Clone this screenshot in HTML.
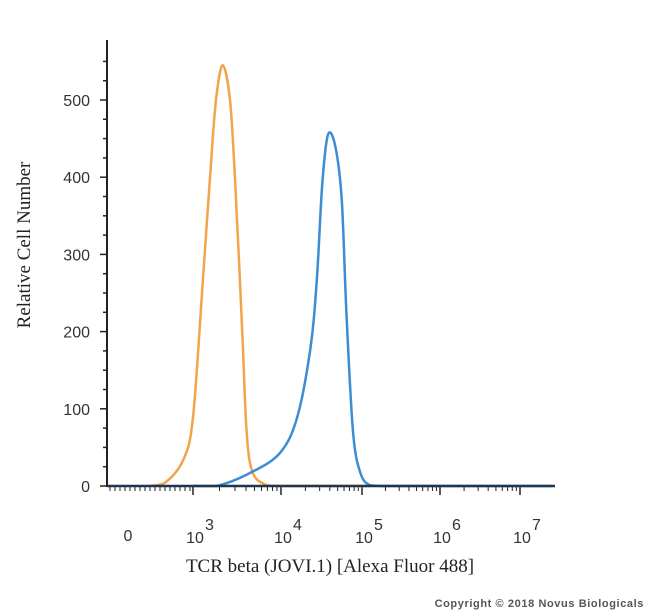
<!DOCTYPE html>
<html><head><meta charset="utf-8"><style>
body{margin:0;background:#fff;width:650px;height:614px;overflow:hidden}
svg{display:block}
.tl{font-family:"Liberation Sans",sans-serif;font-size:16px;fill:#333}
</style></head><body>
<svg id="chart" width="650" height="614">
<g id="axes"></g>
<g id="series"></g>
<text x="30" y="245" transform="rotate(-90 30 245)" text-anchor="middle" font-family="Liberation Serif,serif" font-size="19" fill="#222">Relative Cell Number</text>
<text x="330" y="572" text-anchor="middle" font-family="Liberation Serif,serif" font-size="19" fill="#222">TCR beta (JOVI.1) [Alexa Fluor 488]</text>
<text x="644" y="607" text-anchor="end" font-family="Liberation Sans,sans-serif" font-size="11" font-weight="bold" fill="#555" letter-spacing="0.6">Copyright © 2018 Novus Biologicals</text>
</svg>
<script>
const yTicks=[0,100,200,300,400,500];
const xDecades=[3,4,5,6,7];
const orangeX=[2.5,2.68,2.89,3.0,3.11,3.22,3.27,3.34,3.42,3.48,3.56,3.61,3.68,3.84,4.01,4.3,5.1];
const orangeY=[0,4,34,89,263,444,509,545,500,393,198,69,17,1,0,0,0];
const blueX=[3.0,3.27,3.65,3.99,4.2,4.36,4.44,4.51,4.58,4.67,4.75,4.81,4.89,4.98,5.1,5.3,5.6,7.4];
const blueY=[0,0,17,43,89,176,263,392,455,440,370,219,69,17,1,0,0,0];
const NS='http://www.w3.org/2000/svg';
const decPix={3:193,4:281,5:362,6:440,7:520};
function xs(v){
  if(v<=3) return 193-(3-v)*88;
  if(v>=7) return 520+(v-7)*80;
  const d=Math.floor(v), a=decPix[d], b=decPix[d+1];
  return a+(v-d)*(b-a);
}
function ys(v){return 486-v*0.772;}
function mk(tag,attrs,parent){const e=document.createElementNS(NS,tag);for(const k in attrs)e.setAttribute(k,attrs[k]);parent.appendChild(e);return e;}
const ax=document.getElementById('axes');
const yl=mk('line',{x1:107,y1:40,x2:107,y2:487,stroke:'#222','stroke-width':2},ax);


for(let v=0;v<=550;v+=25){
  const major=v%100===0;
  const t=mk('line',{x1:major?100:103,y1:ys(v),x2:107,y2:ys(v),stroke:'#222','stroke-width':1.5},ax);
  
  
}
yTicks.forEach(v=>{
  const t=mk('text',{x:90,y:ys(v)+6,'text-anchor':'end',class:'tl'},ax);
  t.textContent=v;
  
  
});
const minorPos=[];
for(let p=110;p<193;p+=5)minorPos.push(p);
minorPos.forEach(p=>{const t=mk('line',{x1:p,y1:486,x2:p,y2:491,stroke:'#222','stroke-width':1},ax);});
for(let d=3;d<7;d++){for(let m=2;m<10;m++){const v=d+Math.log10(m);const t=mk('line',{x1:xs(v),y1:486,x2:xs(v),y2:491,stroke:'#222','stroke-width':1},ax);}}
xDecades.forEach(d=>{
  const t=mk('line',{x1:xs(d),y1:486,x2:xs(d),y2:495,stroke:'#222','stroke-width':1.5},ax);
  
  
  const l=mk('text',{x:xs(d)+2,y:543,'text-anchor':'middle',class:'tl'},ax);
  l.textContent='10';
  
  
  const s=mk('text',{x:xs(d)+12,y:530,class:'tl','font-size':'14'},ax);
  s.textContent=d;
  
  
});
const z=mk('text',{x:128,y:541,'text-anchor':'middle',class:'tl'},ax);
z.textContent='0';


const sg=document.getElementById('series');
function drawLine(X,Y,color,name){
  const P=X.map((x,i)=>[xs(x),ys(Y[i])]);
  let d='M'+P[0][0].toFixed(1)+','+P[0][1].toFixed(1);
  for(let i=0;i<P.length-1;i++){
    const p0=P[Math.max(0,i-1)],p1=P[i],p2=P[i+1],p3=P[Math.min(P.length-1,i+2)];
    const c1=[p1[0]+(p2[0]-p0[0])/6,p1[1]+(p2[1]-p0[1])/6];
    const c2=[p2[0]-(p3[0]-p1[0])/6,p2[1]-(p3[1]-p1[1])/6];
    c1[0]=Math.max(Math.min(c1[0],p2[0]),p1[0]);c2[0]=Math.max(Math.min(c2[0],p2[0]),p1[0]);
    c1[1]=Math.min(c1[1],486);c2[1]=Math.min(c2[1],486);
    d+=' C'+c1.map(v=>v.toFixed(1)).join(',')+' '+c2.map(v=>v.toFixed(1)).join(',')+' '+p2.map(v=>v.toFixed(1)).join(',');
  }
  const p=mk('path',{d:d,fill:'none',stroke:color,'stroke-width':2.5,'stroke-linejoin':'round'},sg);
  
  
}
drawLine(orangeX,orangeY,'#f0a54a','isotype-control-histogram');
drawLine(blueX,blueY,'#3d8cd6','tcr-beta-histogram');
const xl=mk('line',{x1:107,y1:486,x2:555,y2:486,stroke:'#1f3550','stroke-width':2.5},sg);


</script>
</body></html>
